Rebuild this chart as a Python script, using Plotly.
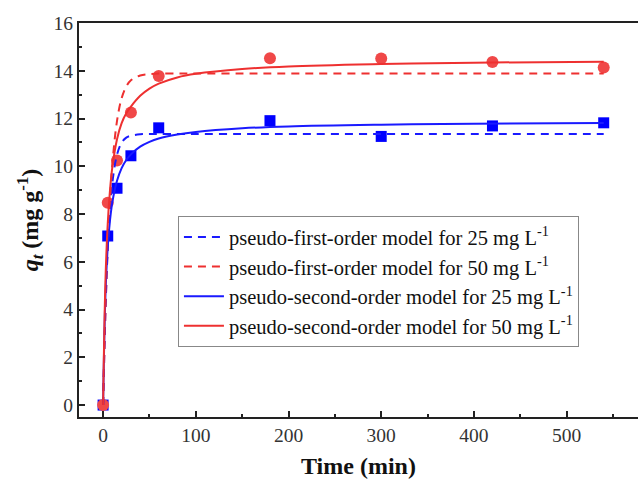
import plotly.graph_objects as go

# Experimental data (time in min, q_t in mg/g)
t_exp = [0, 5, 15, 30, 60, 180, 300, 420, 540]
q_25 = [0, 7.08, 9.08, 10.44, 11.61, 11.91, 11.25, 11.69, 11.82]
q_50 = [0, 8.47, 10.24, 12.25, 13.78, 14.52, 14.51, 14.37, 14.14]

# Model curves
t_fit = [0, 2.5, 5, 7.5, 10, 15, 20, 25, 30, 40, 50, 60, 80, 100, 150, 200, 300, 400, 540]
pfo_25 = [0, 3.97, 6.55, 8.23, 9.32, 10.49, 10.99, 11.20, 11.28, 11.34, 11.35, 11.35, 11.35, 11.35, 11.35, 11.35, 11.35, 11.35, 11.35]
pfo_50 = [0, 3.85, 6.64, 8.64, 10.10, 11.90, 12.85, 13.34, 13.60, 13.80, 13.86, 13.88, 13.88, 13.88, 13.88, 13.88, 13.88, 13.88, 13.88]
pso_25 = [0, 4.58, 6.61, 7.76, 8.50, 9.39, 9.92, 10.26, 10.50, 10.82, 11.02, 11.16, 11.33, 11.44, 11.59, 11.67, 11.74, 11.78, 11.81]
pso_50 = [0, 5.15, 7.60, 9.03, 9.97, 11.13, 11.81, 12.22, 12.50, 12.95, 13.25, 13.46, 13.72, 13.87, 14.07, 14.18, 14.28, 14.34, 14.38]

legend_names = [
    "pseudo-first-order model for 25 mg L<sup>-1</sup>",
    "pseudo-first-order model for 50 mg L<sup>-1</sup>",
    "pseudo-second-order model for 25 mg L<sup>-1</sup>",
    "pseudo-second-order model for 50 mg L<sup>-1</sup>",
]

BLUE = "#1a1aff"
RED = "#ee3030"
FONT = "Times New Roman, Liberation Serif, serif"

fig = go.Figure()

fig.add_trace(go.Scatter(x=t_exp, y=q_25, mode="markers", showlegend=False,
                         marker=dict(symbol="square", size=11, color="#0000ff")))
fig.add_trace(go.Scatter(x=t_exp, y=q_50, mode="markers", showlegend=False,
                         marker=dict(symbol="circle", size=12, color="#f04848")))

fig.add_trace(go.Scatter(x=t_fit, y=pfo_25, mode="lines", name=legend_names[0],
                         line=dict(color=BLUE, width=2, dash="8px,6px", shape="spline")))
fig.add_trace(go.Scatter(x=t_fit, y=pfo_50, mode="lines", name=legend_names[1],
                         line=dict(color=RED, width=2, dash="8px,6px", shape="spline")))
fig.add_trace(go.Scatter(x=t_fit, y=pso_25, mode="lines", name=legend_names[2],
                         line=dict(color=BLUE, width=2, shape="spline")))
fig.add_trace(go.Scatter(x=t_fit, y=pso_50, mode="lines", name=legend_names[3],
                         line=dict(color=RED, width=2, shape="spline")))

fig.update_layout(
    width=638, height=480,
    margin=dict(l=79, r=0, t=23, b=63),
    paper_bgcolor="white", plot_bgcolor="white",
    font=dict(family=FONT, size=19, color="#222"),
    legend=dict(x=0.177, y=0.510, xanchor="left", yanchor="top",
                bordercolor="#888", borderwidth=1, bgcolor="white",
                font=dict(family=FONT, size=20.5, color="#111"),
                tracegroupgap=0, itemwidth=40),
    xaxis=dict(
        range=[-26, 577], showgrid=False, zeroline=False,
        showline=True, linecolor="#222", linewidth=2, mirror=True,
        ticks="inside", ticklen=6, tickwidth=1.5, tickcolor="#222",
        tick0=0, dtick=100,
        tickfont=dict(family=FONT, size=19.5, color="#333"),
        minor=dict(ticks="inside", ticklen=3, dtick=50, tick0=0, tickcolor="#222", tickwidth=1.5),
        title=dict(text="<b>Time (min)</b>", font=dict(family=FONT, size=24, color="#111"), standoff=12),
    ),
    yaxis=dict(
        range=[-0.5, 16], showgrid=False, zeroline=False,
        showline=True, linecolor="#222", linewidth=2,
        ticks="inside", ticklen=6, tickwidth=1.5, tickcolor="#222",
        tick0=0, dtick=2,
        tickfont=dict(family=FONT, size=19.5, color="#333"),
        minor=dict(ticks="inside", ticklen=3, dtick=1, tick0=0, tickcolor="#222", tickwidth=1.5),
        title=dict(text="<b><i>q</i><sub><i>t</i></sub> (mg g<sup>-1</sup>)</b>",
                   font=dict(family=FONT, size=24, color="#111"), standoff=8),
    ),
)

fig.write_html("out.html")
